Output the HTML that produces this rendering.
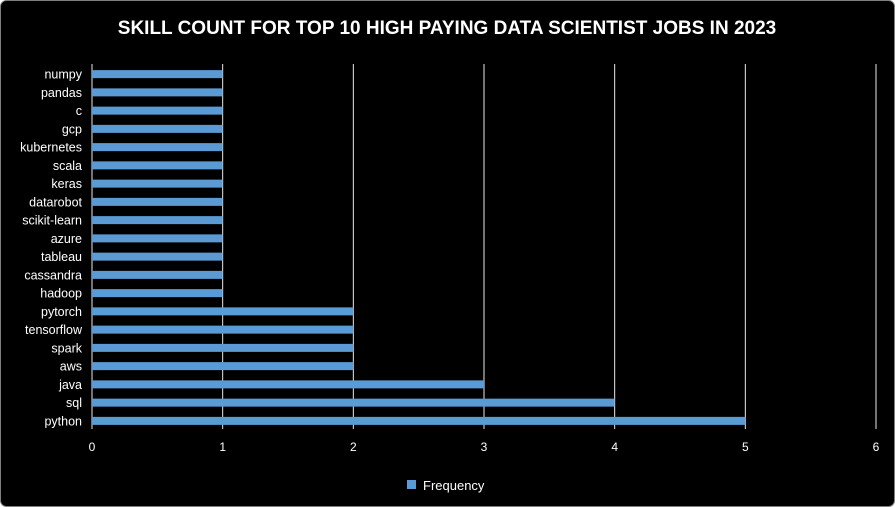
<!DOCTYPE html>
<html><head><meta charset="utf-8"><style>
html,body{margin:0;padding:0;background:#fff;}
#wrap{width:895px;height:507px;position:relative;}
svg{display:block;}
text{font-family:"Liberation Sans",sans-serif;}
</style></head><body>
<div id="wrap">
<svg id="chart" width="895" height="507">
<rect x="0.5" y="0.5" width="894" height="506" rx="6" fill="#000" stroke="#7f7f7f"/>
<text x="447" y="34" text-anchor="middle" fill="#fff" font-size="19" font-weight="bold">SKILL COUNT FOR TOP 10 HIGH PAYING DATA SCIENTIST JOBS IN 2023</text>
<g id="grid"></g><g id="bars"></g><g id="ylabels"></g><g id="xlabels"></g>
<rect x="407" y="480" width="9" height="9" fill="#5b9bd5"/>
<text x="423" y="490" fill="#fff" font-size="13">Frequency</text>
</svg></div>
<script>
const categories=["numpy","pandas","c","gcp","kubernetes","scala","keras","datarobot","scikit-learn","azure","tableau","cassandra","hadoop","pytorch","tensorflow","spark","aws","java","sql","python"];
const values=[1,1,1,1,1,1,1,1,1,1,1,1,1,2,2,2,2,3,4,5];
const xTicks=[0,1,2,3,4,5,6];
const NS="http://www.w3.org/2000/svg";
const x0=92,x1=876,xMax=6,yTop=64,yBot=429;
const band=(yBot-yTop)/categories.length;
const xs=v=>x0+(x1-x0)*v/xMax;
const yc=i=>yTop+band*(i+0.5)+1;
function mk(t,a,p){const e=document.createElementNS(NS,t);for(const k in a)e.setAttribute(k,a[k]);p.appendChild(e);return e;}
const grid=document.getElementById('grid'),bars=document.getElementById('bars'),yl=document.getElementById('ylabels'),xl=document.getElementById('xlabels');
xTicks.forEach(t=>{
 const l=mk('line',{x1:xs(t),x2:xs(t),y1:yTop,y2:yBot,stroke:'#e8e8e8','stroke-width':1},grid);
 
 
 const tx=mk('text',{x:xs(t),y:yBot+22,'text-anchor':'middle',fill:'#fff','font-size':12},xl);
 tx.textContent=t;
 
 
});
categories.forEach((c,i)=>{
 const r=mk('rect',{x:x0,y:yc(i)-4,width:xs(values[i])-x0,height:8,fill:'#5b9bd5'},bars);
 
 
 const t=mk('text',{x:82,y:yc(i)+4.5,'text-anchor':'end',fill:'#fff','font-size':12.5},yl);
 t.textContent=c;
 
 
});
</script>
</body></html>
